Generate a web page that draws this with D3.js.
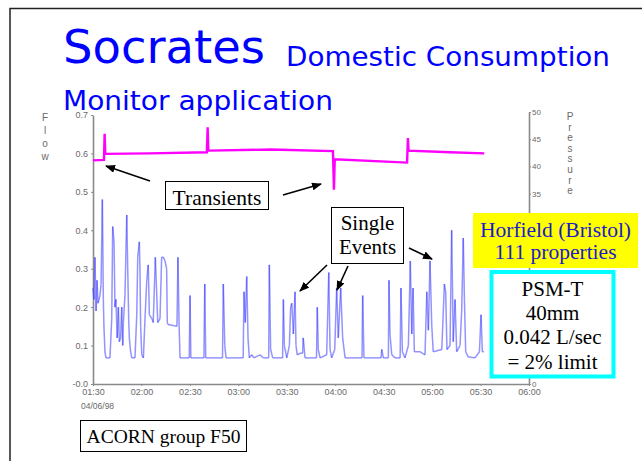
<!DOCTYPE html>
<html>
<head>
<meta charset="utf-8">
<script src="https://cdn.jsdelivr.net/npm/d3@7"></script>
<style>
  html, body { margin: 0; padding: 0; background: #fff; }
  svg { display: block; }
</style>
</head>
<body>
<script>
// ---- data ----
var timeTicks = ["01:30", "02:00", "02:30", "03:00", "03:30", "04:00", "04:30", "05:00", "05:30", "06:00"];
var flowTicks = [0, 0.1, 0.2, 0.3, 0.4, 0.5, 0.6, 0.7];
var flowTickLabels = ["-0.0", "0.1", "0.2", "0.3", "0.4", "0.5", "0.6", "0.7"];
var pressureTicks = [0, 5, 10, 15, 20, 25, 30, 35, 40, 45, 50];
// only these pressure labels show; the rest sit under the boxes on the slide
var pressureShown = [0, 35, 40, 45, 50];

// [minutes after 01:30, flow L/s]
var flow = [
  [0, 0.25], [0.6, 0.22], [1.2, 0.33], [1.9, 0.19], [2.5, 0.27], [3.1, 0.21], [4.3, 0.23], [5.0, 0.26],
  [5.8, 0.48], [6.4, 0.22], [6.8, 0.146], [7.4, 0.084], [8.0, 0.068], [10.5, 0.068], [11.6, 0.17],
  [12.2, 0.41], [13.0, 0.37], [13.6, 0.20], [14.2, 0.22], [15.0, 0.12], [15.7, 0.20], [16.3, 0.11],
  [17.1, 0.12], [17.8, 0.20], [18.4, 0.10], [18.8, 0.16], [19.8, 0.23], [20.9, 0.44], [21.5, 0.30],
  [22.1, 0.17], [22.5, 0.12], [23.3, 0.084], [24.0, 0.068], [26.0, 0.068], [27.1, 0.18], [27.7, 0.33],
  [28.7, 0.37], [29.1, 0.29], [29.5, 0.15], [30.2, 0.076], [31.2, 0.068], [32.2, 0.17], [33.3, 0.27],
  [34.2, 0.31], [34.9, 0.18], [36.5, 0.17], [37.3, 0.16], [38.6, 0.33], [39.4, 0.24], [40.1, 0.16],
  [41.5, 0.17], [42.5, 0.33], [43.5, 0.33], [44.6, 0.32], [45.6, 0.30], [46.0, 0.16], [46.4, 0.155],
  [52.0, 0.15], [52.6, 0.33], [53.3, 0.155], [53.9, 0.068], [59.6, 0.068], [60.1, 0.23], [60.6, 0.068],
  [68.7, 0.068], [69.2, 0.26], [69.8, 0.068], [80.2, 0.068], [80.7, 0.26], [81.6, 0.10], [82.4, 0.068],
  [93.0, 0.068], [93.5, 0.24], [94.3, 0.16], [95.2, 0.28], [96.0, 0.12], [96.8, 0.068], [98.3, 0.076],
  [99.7, 0.068], [103.4, 0.076], [105.5, 0.068], [108.8, 0.068], [109.2, 0.31], [110.0, 0.09],
  [111.3, 0.068], [117.4, 0.068], [117.9, 0.22], [118.5, 0.10], [120.0, 0.068], [121.6, 0.10],
  [122.4, 0.20], [123.1, 0.21], [124.1, 0.13], [125.1, 0.24], [125.7, 0.10], [126.5, 0.076],
  [128.2, 0.08], [129.8, 0.08], [130.2, 0.12], [131.3, 0.068], [138.4, 0.068], [138.9, 0.20],
  [139.5, 0.09], [140.6, 0.068], [144.7, 0.076], [146.0, 0.29], [146.8, 0.09], [147.8, 0.068],
  [149.7, 0.09], [150.9, 0.25], [151.9, 0.12], [153.4, 0.25], [154.6, 0.12], [156.1, 0.068],
  [166.6, 0.068], [167.0, 0.23], [167.8, 0.068], [178.4, 0.068], [178.8, 0.09], [179.8, 0.068],
  [182.9, 0.068], [183.3, 0.27], [183.9, 0.13], [185.0, 0.076], [187.0, 0.068], [190.2, 0.068],
  [190.7, 0.25], [191.6, 0.084], [193.2, 0.068], [195.3, 0.10], [196.5, 0.32], [197.4, 0.13],
  [198.2, 0.25], [199.0, 0.084], [202.5, 0.084], [205.6, 0.076], [206.7, 0.24], [207.7, 0.14],
  [208.7, 0.32], [209.8, 0.15], [210.7, 0.084], [216.0, 0.09], [217.6, 0.26], [218.4, 0.24],
  [219.2, 0.09], [221.1, 0.10], [222.1, 0.40], [223.1, 0.11], [224.2, 0.22], [225.2, 0.084],
  [227.3, 0.10], [228.3, 0.19], [229.3, 0.38], [230.0, 0.22], [230.8, 0.084], [232.4, 0.07],
  [236.6, 0.068], [239.3, 0.084], [240.3, 0.18], [241.1, 0.084], [242.1, 0.084]
];

// [minutes after 01:30, pressure]
var pressure = [
  [0, 41.1], [6.8, 41.2], [7.2, 46.0], [7.6, 42.3], [35, 42.4], [70.5, 42.6], [71.0, 47.2],
  [71.4, 42.9], [110, 43.1], [148.6, 42.8], [149.2, 35.7], [149.7, 41.3], [194.5, 40.7],
  [195.0, 45.2], [195.4, 42.9], [221, 42.6], [242.3, 42.4]
];

var width = 642, height = 461;
var start = new Date(1998, 5, 4, 1, 30);
var tm = function(m) { return new Date(start.getTime() + m * 60000); };
var parseHM = function(s) {
  var p = s.split(":");
  return new Date(1998, 5, 4, +p[0], +p[1]);
};

var svg = d3.select("body").append("svg")
  .attr("width", width).attr("height", height);

var defs = svg.append("defs");
defs.append("marker")
  .attr("id", "arrow")
  .attr("markerUnits", "userSpaceOnUse")
  .attr("markerWidth", 10).attr("markerHeight", 8)
  .attr("refX", 9).attr("refY", 4)
  .attr("orient", "auto")
  .append("path").attr("d", "M0,0L10,4L0,8Z").attr("fill", "#000");

// slide frame
svg.append("path")
  .attr("d", "M10," + height + "V8.5H" + width)
  .attr("fill", "none").attr("stroke", "#222").attr("stroke-width", 1.5);

// title
var title = svg.append("g").attr("fill", "#0000ff").attr("font-family", "'DejaVu Sans', Verdana, sans-serif");
title.append("text").attr("x", 63).attr("y", 63).attr("font-size", 47)
  .attr("textLength", 202).attr("lengthAdjust", "spacingAndGlyphs").text("Socrates");
title.append("text").attr("x", 286).attr("y", 66).attr("font-size", 27)
  .attr("textLength", 324).attr("lengthAdjust", "spacingAndGlyphs").text("Domestic Consumption");
title.append("text").attr("x", 63).attr("y", 110).attr("font-size", 27)
  .attr("textLength", 270).attr("lengthAdjust", "spacingAndGlyphs").text("Monitor application");

// scales
var x = d3.scaleTime().domain([parseHM(timeTicks[0]), parseHM(timeTicks[timeTicks.length - 1])]).range([93, 529]);
var yFlow = d3.scaleLinear().domain([0, 0.7]).range([384, 115]);
var yPres = d3.scaleLinear().domain([0, 50]).range([384, 112]);

var axisColor = "#8a8a8a", labelColor = "#6a6a6a";
function styleAxis(g) {
  g.select(".domain").attr("stroke", axisColor).attr("stroke-width", 1.6);
  g.selectAll(".tick line").attr("stroke", axisColor);
  g.selectAll(".tick text").attr("fill", labelColor)
    .attr("font-family", "'Liberation Sans', Arial, sans-serif").attr("font-size", 9);
}

var xAxis = svg.append("g").attr("transform", "translate(0,384)")
  .call(d3.axisBottom(x).tickValues(timeTicks.map(parseHM)).tickFormat(d3.timeFormat("%H:%M"))
    .tickSize(2).tickPadding(3).tickSizeOuter(0));
styleAxis(xAxis);
svg.append("text").attr("x", 81).attr("y", 409)
  .attr("fill", labelColor).attr("font-size", 8.5)
  .attr("font-family", "'Liberation Sans', Arial, sans-serif").text("04/06/98");

var yAxisL = svg.append("g").attr("transform", "translate(93,0)")
  .call(d3.axisLeft(yFlow).tickValues(flowTicks).tickFormat(function(d, i) { return flowTickLabels[i]; })
    .tickSize(2).tickPadding(3).tickSizeOuter(0));
styleAxis(yAxisL);

var yAxisR = svg.append("g").attr("transform", "translate(529,0)")
  .call(d3.axisRight(yPres).tickValues(pressureTicks)
    .tickFormat(function(d) { return pressureShown.indexOf(d) >= 0 ? d3.format("d")(d) : ""; })
    .tickSize(2).tickPadding(1).tickSizeOuter(0));
styleAxis(yAxisR);
yAxisR.selectAll(".tick text").attr("font-size", 8);

// vertical axis titles
function verticalWord(word, xPos, y0, step) {
  var t = svg.append("text").attr("fill", labelColor).attr("font-size", 10)
    .attr("font-family", "'Liberation Sans', Arial, sans-serif").attr("text-anchor", "middle");
  word.split("").forEach(function(ch, i) {
    t.append("tspan").attr("x", xPos).attr("y", y0 + i * step).text(ch);
  });
}
verticalWord("Flow", 45, 121, 13);
verticalWord("Pressure", 570, 120, 10.6);

// pressure trace
var presLine = d3.line()
  .x(function(d) { return x(tm(d[0])); })
  .y(function(d) { return yPres(d[1]); });
svg.append("path").datum(pressure)
  .attr("d", presLine)
  .attr("fill", "none").attr("stroke", "#ff00ff").attr("stroke-width", 2.4);

// flow trace: separate segments so doubled-back strokes go darker, like the original
svg.append("g").selectAll("line")
  .data(d3.pairs(flow))
  .enter().append("line")
  .attr("x1", function(d) { return x(tm(d[0][0])); })
  .attr("y1", function(d) { return yFlow(d[0][1]); })
  .attr("x2", function(d) { return x(tm(d[1][0])); })
  .attr("y2", function(d) { return yFlow(d[1][1]); })
  .attr("stroke", "#3c3cff").attr("stroke-opacity", 0.55).attr("stroke-width", 1.5);

// annotations
var serif = "'Liberation Serif', 'Times New Roman', serif";
function box(x0, y0, w, h, lines, opts) {
  opts = opts || {};
  svg.append("rect").attr("x", x0).attr("y", y0).attr("width", w).attr("height", h)
    .attr("fill", opts.fill || "#fff")
    .attr("stroke", opts.stroke || "#000")
    .attr("stroke-width", opts.strokeWidth || 1);
  var t = svg.append("text").attr("font-family", serif).attr("font-size", opts.size || 19)
    .attr("fill", opts.color || "#000").attr("text-anchor", "middle");
  lines.forEach(function(l, i) {
    t.append("tspan").attr("x", x0 + w / 2).attr("y", opts.base + i * (opts.lead || 23)).text(l);
  });
}
box(165.5, 181.5, 103, 28, ["Transients"], { base: 205, size: 21.5 });
box(331.5, 207.5, 72, 56, ["Single", "Events"], { base: 230, lead: 23.5, size: 21 });
box(473, 213, 165, 55, ["Horfield (Bristol)", "111 properties"], { base: 237, lead: 22, size: 21.5, fill: "#ffff00", stroke: "none", color: "#1a1ad0" });
box(491.5, 272, 122, 104.5, ["PSM-T", "40mm", "0.042 L/sec", "= 2% limit"], { base: 296, lead: 24.2, size: 21, stroke: "#00ffff", strokeWidth: 4 });
box(80.5, 420.5, 166, 31, ["ACORN group F50"], { base: 443, size: 19.5 });

var arrows = [
  [150, 181, 106, 166],
  [283, 195, 321, 184],
  [327, 265, 300, 291],
  [348, 266, 337, 290],
  [409, 248, 432, 259]
];
svg.append("g").selectAll("line").data(arrows).enter().append("line")
  .attr("x1", function(d) { return d[0]; }).attr("y1", function(d) { return d[1]; })
  .attr("x2", function(d) { return d[2]; }).attr("y2", function(d) { return d[3]; })
  .attr("stroke", "#000").attr("stroke-width", 1.6)
  .attr("marker-end", "url(#arrow)");
</script>
</body>
</html>
